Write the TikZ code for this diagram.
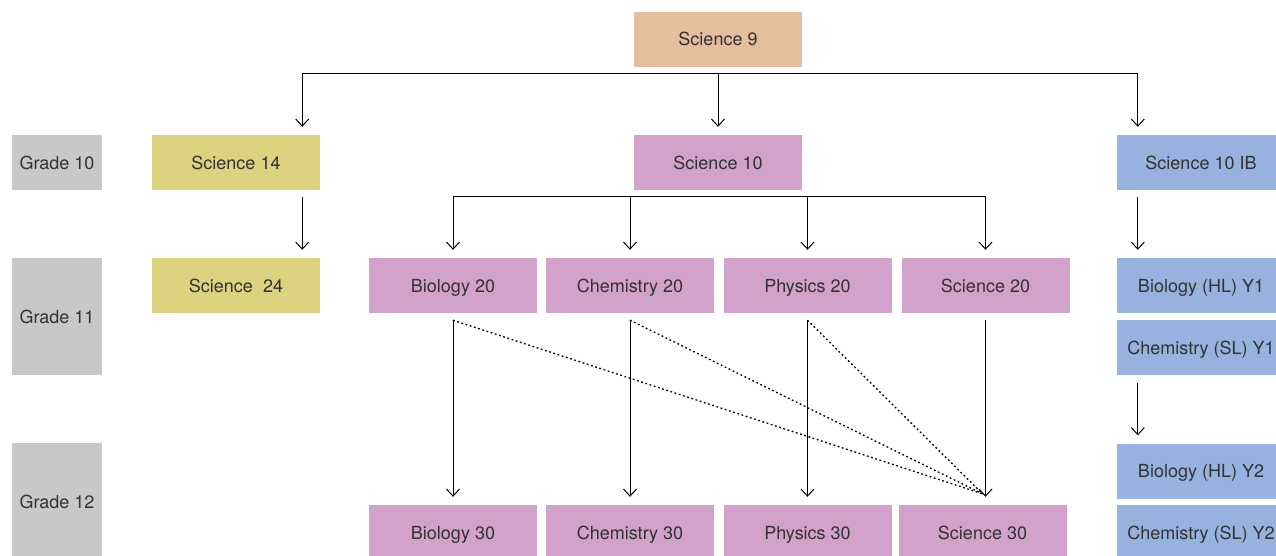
\documentclass[tikz,border=0pt]{standalone}
\usepackage{fontspec}
\setmainfont{TeX Gyre Heros}
\usetikzlibrary{calc,arrows.meta}
\definecolor{peach}{RGB}{229,190,158}
\definecolor{mustard}{RGB}{221,210,128}
\definecolor{orchid}{RGB}{211,162,202}
\definecolor{skyblue}{RGB}{151,178,222}
\definecolor{slate}{RGB}{200,200,200}
\definecolor{ink}{RGB}{50,50,50}
\tikzset{%
  course box/.style={fill=#1, draw=none, minimum width=168pt, minimum height=55pt,
    inner sep=0pt, text=ink, text height=17pt, text depth=3.7pt,
    font=\fontsize{18}{20}\selectfont},
  grade box/.style={fill=slate, draw=none, minimum width=90pt, minimum height=#1,
    inner sep=0pt, text=ink, text height=17pt, text depth=3.7pt,
    font=\fontsize{18}{20}\selectfont},
  flow arrow/.style={-{Straight Barb[length=7pt,width=13pt,line width=1pt]},
    line width=1pt, shorten >=8pt},
  alt path/.style={line width=1.3pt, dash pattern=on 1.8pt off 2.6pt},
}
\begin{document}
\begin{tikzpicture}[x=1pt,y=-1pt]
  \useasboundingbox (0,0) rectangle (1276,555);
  % grade labels
  \node [grade box=55pt]  (g10) at (57,162.5) {Grade 10};
  \node [grade box=117pt] (g11) at (57,316.5) {Grade 11};
  \node [grade box=117pt] (g12) at (57,501.5) {Grade 12};
  % courses
  \node [course box=peach]   (sci9)   at (718,39)      {Science 9};
  \node [course box=mustard] (sci14)  at (236,162.5)   {Science 14};
  \node [course box=orchid]  (sci10)  at (718,162.5)   {Science 10};
  \node [course box=skyblue] (sci10ib) at (1201,162.5) {Science 10 IB};
  \node [course box=mustard] (sci24)  at (236,285.5)   {Science\ \ 24};
  \node [course box=orchid]  (bio20)  at (453,285.5)   {Biology 20};
  \node [course box=orchid]  (chem20) at (630,285.5)   {Chemistry 20};
  \node [course box=orchid]  (phys20) at (807.5,285.5) {Physics 20};
  \node [course box=orchid]  (sci20)  at (985.5,285.5) {Science 20};
  \node [course box=skyblue] (biohl1) at (1201,285.5)  {Biology (HL) Y1};
  \node [course box=skyblue] (chemsl1) at (1201,347.5) {Chemistry (SL) Y1};
  \node [course box=skyblue] (biohl2) at (1201,471)    {Biology (HL) Y2};
  \node [course box=orchid]  (bio30)  at (453,532.5)   {Biology 30};
  \node [course box=orchid]  (chem30) at (630,532.5)   {Chemistry 30};
  \node [course box=orchid]  (phys30) at (807.5,532.5) {Physics 30};
  \node [course box=orchid]  (sci30)  at (982.5,532.5) {Science 30};
  \node [course box=skyblue] (chemsl2) at (1201,532.5) {Chemistry (SL) Y2};
  % branch points
  \coordinate (bus9) at ($(sci9.south)+(0,7)$);
  \coordinate (bus10) at ($(sci10.south)+(0,6)$);
  \coordinate (c14) at ($(sci14.north east)+(-18,0)$);
  \coordinate (cIB) at ($(sci10ib.north west)+(21,0)$);
  \coordinate (meet) at ($(sci20.south |- sci30.north)+(-3,-11)$);
  % grade 9 to grade 10
  \draw [line width=1pt] (bus9 -| c14) -- (bus9 -| cIB);
  \draw [flow arrow] (bus9 -| c14) -- (c14);
  \draw [flow arrow] (bus9) -- (sci10.north);
  \draw [flow arrow] (bus9 -| cIB) -- (cIB);
  % grade 10 to grade 11
  \draw [flow arrow, shorten <=7pt] (c14 |- sci14.south) -- (c14 |- sci24.north);
  \draw [line width=1pt] (bus10 -| bio20) -- (bus10 -| sci20);
  \foreach \n in {bio20,chem20,phys20,sci20}
    \draw [flow arrow] (bus10 -| \n.north) -- (\n.north);
  \draw [flow arrow, shorten <=7pt] (cIB |- sci10ib.south) -- (cIB |- biohl1.north);
  % grade 11 to grade 12
  \foreach \a/\b in {bio20/bio30,chem20/chem30,phys20/phys30}
    \draw [flow arrow, shorten <=7pt] (\a.south) -- (\a.south |- \b.north);
  \draw [flow arrow, shorten <=7pt] (sci20.south) -- (sci20.south |- sci30.north);
  \draw [flow arrow, shorten <=8pt] (cIB |- chemsl1.south) -- (cIB |- biohl2.north);
  % other routes into Science 30
  \foreach \n in {bio20,chem20,phys20}
    \draw [alt path] ($(\n.south)+(0,7)$) -- (meet);
\end{tikzpicture}
\end{document}
